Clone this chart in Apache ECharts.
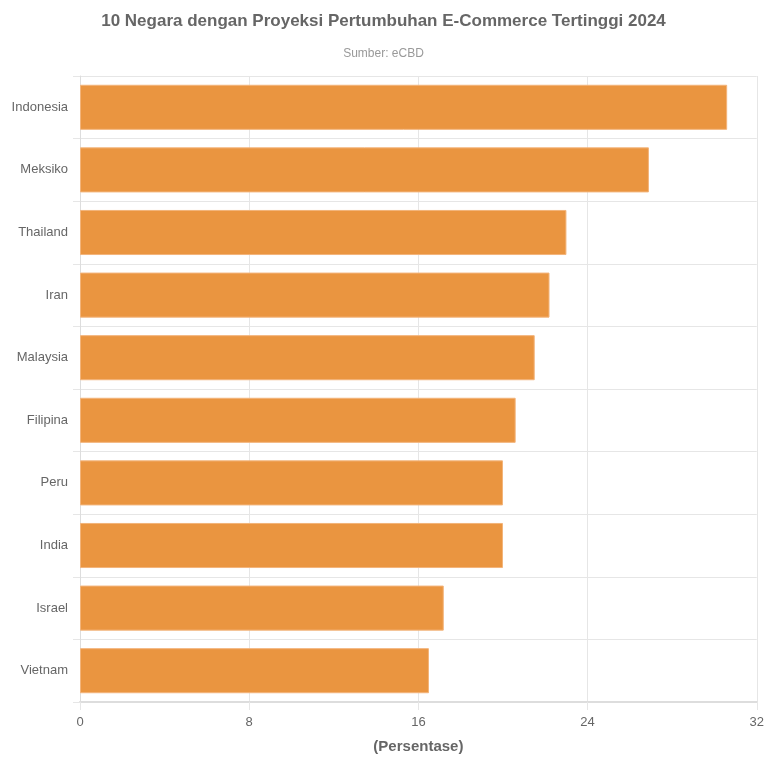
<!DOCTYPE html>
<html>
<head>
<meta charset="utf-8">
<script src="https://cdn.jsdelivr.net/npm/echarts@6/dist/echarts.min.js"></script>
<style>
  html, body { margin: 0; padding: 0; background: #fff; }
  #chart { width: 767px; height: 759px; }
</style>
</head>
<body>
<div id="chart"></div>
<script>
const countries = ["Indonesia", "Meksiko", "Thailand", "Iran", "Malaysia", "Filipina", "Peru", "India", "Israel", "Vietnam"];
const growth = [30.6, 26.9, 23.0, 22.2, 21.5, 20.6, 20.0, 20.0, 17.2, 16.5];
const xTicks = [0, 8, 16, 24, 32];

const chart = echarts.init(document.getElementById("chart"));

// specify chart configuration item and data
const option = {
  animation: false,
  textStyle: { fontFamily: "Liberation Sans, Arial, sans-serif" },
  title: {
    text: "10 Negara dengan Proyeksi Pertumbuhan E-Commerce Tertinggi 2024",
    subtext: "Sumber: eCBD",
    left: "center",
    top: 8,
    itemGap: 18,
    textStyle: { fontSize: 17, fontWeight: "bold", color: "#666" },
    subtextStyle: { fontSize: 12, color: "#999" }
  },
  grid: { left: 80, right: 9, top: 76, bottom: 54 },
  xAxis: {
    type: "value",
    min: xTicks[0],
    max: xTicks[xTicks.length - 1],
    interval: 8,
    name: "(Persentase)",
    nameLocation: "middle",
    nameGap: 37,
    nameTextStyle: { fontSize: 15, fontWeight: "bold", color: "#666" },
    axisLine: { show: true, lineStyle: { color: "#ddd", width: 2 } },
    axisTick: { show: true, length: 8, lineStyle: { color: "#e6e6e6" } },
    axisLabel: { color: "#666", fontSize: 13, margin: 14 },
    splitLine: { show: true, lineStyle: { color: "#e6e6e6" } }
  },
  yAxis: {
    type: "category",
    inverse: true,
    data: countries,
    axisLine: { show: true, lineStyle: { color: "#ddd" } },
    axisTick: { show: true, length: 7, lineStyle: { color: "#e6e6e6" } },
    axisLabel: { color: "#666", fontSize: 13, margin: 12 },
    splitLine: { show: true, lineStyle: { color: "#e6e6e6" } }
  },
  series: [{
    type: "bar",
    data: growth,
    barCategoryGap: "28%",
    itemStyle: { color: "#EA9540", borderColor: "#F3B47A", borderWidth: 1 }
  }]
};

chart.setOption(option);
</script>
</body>
</html>
